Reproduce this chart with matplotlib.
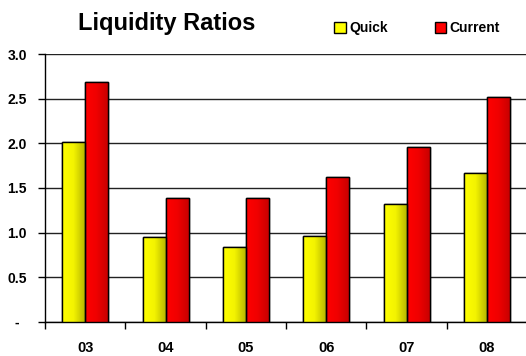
import matplotlib.pyplot as plt
import numpy as np
from matplotlib.colors import LinearSegmentedColormap
from matplotlib.patches import Patch

plt.rcParams["font.family"] = ["Liberation Sans", "DejaVu Sans"]
plt.rcParams["font.weight"] = "bold"

years = ["03", "04", "05", "06", "07", "08"]
quick = [2.01, 0.95, 0.84, 0.96, 1.32, 1.67]
current = [2.69, 1.39, 1.39, 1.62, 1.96, 2.52]
y_ticks = [0.0, 0.5, 1.0, 1.5, 2.0, 2.5, 3.0]
y_tick_labels = ["-  ", "0.5", "1.0", "1.5", "2.0", "2.5", "3.0"]

YELLOW = ("#ffff00", "#f4f400", "#b8b800")
RED = ("#ff0000", "#f00000", "#c80000")

fig = plt.figure(figsize=(5.26, 3.56), dpi=100)
ax = fig.add_axes([0.0856, 0.096, 0.9164, 0.752])

x = np.arange(len(years))
width = 0.286
bars_q = ax.bar(x - width / 2, quick, width, color=YELLOW[0], edgecolor="black", linewidth=1.0, zorder=3)
bars_c = ax.bar(x + width / 2, current, width, color=RED[0], edgecolor="black", linewidth=1.0, zorder=3)

# horizontal shading inside each bar, light on the left, darker on the right
grad = np.linspace(0, 1, 64).reshape(1, -1)
for bars, cols in ((bars_q, YELLOW), (bars_c, RED)):
    cmap = LinearSegmentedColormap.from_list("shade", list(cols))
    for b in bars:
        x0, y0 = b.get_x(), b.get_y()
        im = ax.imshow(grad, cmap=cmap, aspect="auto", zorder=3.5,
                       extent=(x0, x0 + b.get_width(), y0, y0 + b.get_height()))
        im.set_clip_path(b)
        ax.add_patch(plt.Rectangle((x0, y0), b.get_width(), b.get_height(),
                                   fill=False, edgecolor="black", linewidth=1.0, zorder=4))

ax.set_xlim(-0.5, 5.5)
ax.set_ylim(0, 3.0)
ax.set_yticks(y_ticks)
ax.set_yticklabels(y_tick_labels, fontsize=10, fontweight="bold")
ax.set_xticks(x)
ax.set_xticklabels(years, fontsize=10.5, fontweight="bold")
ax.set_xticks(np.arange(-0.5, 5.6, 1.0), minor=True)
ax.tick_params(axis="x", which="major", length=0, pad=14)
ax.tick_params(axis="x", which="minor", length=5, width=1, color="black", direction="out")
ax.tick_params(axis="y", length=5, width=1, direction="out", pad=8)

ax.grid(True, axis="y", color="#222222", linewidth=1.0, zorder=0)
ax.set_axisbelow(True)
for side in ("top", "right"):
    ax.spines[side].set_visible(False)
ax.spines["left"].set_linewidth(1.0)
ax.spines["bottom"].set_linewidth(1.0)

fig.text(0.316, 0.935, "Liquidity Ratios", fontsize=17, fontweight="bold", ha="center", va="center")

handles = [Patch(facecolor=YELLOW[0], edgecolor="black", label="Quick"),
           Patch(facecolor=RED[0], edgecolor="black", label="Current")]
fig.legend(handles=handles, loc="center left", bbox_to_anchor=(0.612, 0.92), ncol=2,
           frameon=False, handlelength=0.8, handleheight=0.8,
           handletextpad=0.25, columnspacing=3.4, prop={"weight": "bold", "size": 10})

fig.savefig("out.png", dpi=100)
